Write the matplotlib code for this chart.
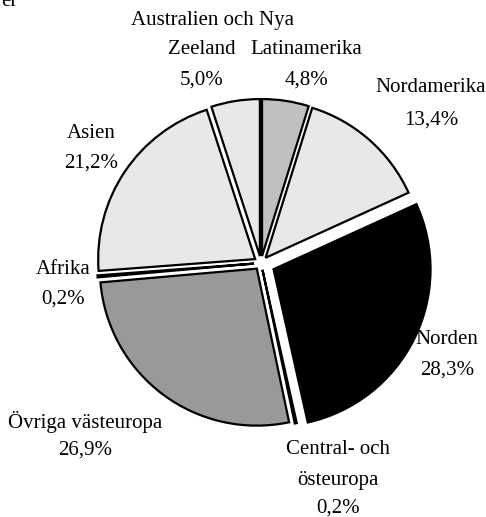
import matplotlib
matplotlib.use('Agg')
import matplotlib.pyplot as plt

regions = ['Latinamerika', 'Nordamerika', 'Norden', 'Central- och östeuropa',
           'Övriga västeuropa', 'Afrika', 'Asien', 'Australien och Nya Zeeland']
shares = [4.8, 13.4, 28.3, 0.2, 26.9, 0.2, 21.2, 5.0]
colors = ['#c0c0c0', '#e8e8e8', '#000000', '#ffffff',
          '#999999', '#ffffff', '#e8e8e8', '#e8e8e8']
# offsets are in pixel units because the axes are drawn in pixel space
explode = [7, 7, 14, 7, 7, 7, 7, 7]

plt.rcParams['font.family'] = ['Liberation Serif', 'DejaVu Serif']

fig = plt.figure(figsize=(4.86, 5.17), dpi=100)
ax = fig.add_axes([0, 0, 1, 1])

H = 517
ax.pie(shares, colors=colors, explode=explode, startangle=90, counterclock=False,
       center=(261, H - 263), radius=157, frame=True,
       wedgeprops=dict(edgecolor='black', linewidth=1.6))
ax.set_xlim(0, 486)
ax.set_ylim(0, 517)
ax.set_aspect('equal')
ax.axis('off')

def pct(v):
    return f'{v:.1f}%'.replace('.', ',')

fs = 15
ax.text(1, H - 6, 'er', fontsize=fs, ha='left', va='baseline')

# label positions in pixel coords (x, y from top)
labels = [
    (306, [(50, 'Latinamerika'), (80, pct(shares[0]))]),
    (431, [(88, 'Nordamerika'), (120, pct(shares[1]))]),
    (447, [(340, 'Norden'), (370, pct(shares[2]))]),
    (338, [(450, 'Central- och'), (480, 'östeuropa'), (508, pct(shares[3]))]),
    (85, [(422, 'Övriga västeuropa'), (450, pct(shares[4]))]),
    (63, [(269, 'Afrika'), (299, pct(shares[5]))]),
    (91, [(133, 'Asien'), (163, pct(shares[6]))]),
]
for x, rows in labels:
    for y, s in rows:
        ax.text(x, H - y, s, fontsize=fs, ha='center', va='center')

ax.text(212, H - 20, 'Australien och Nya', fontsize=fs, ha='center', va='center')
ax.text(202, H - 50, 'Zeeland', fontsize=fs, ha='center', va='center')
ax.text(202, H - 80, pct(shares[7]), fontsize=fs, ha='center', va='center')

fig.savefig('out.png', dpi=100)
